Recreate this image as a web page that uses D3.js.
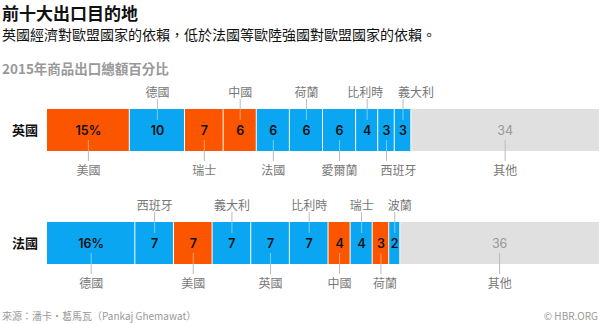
<!DOCTYPE html>
<html lang="zh-TW">
<head>
<meta charset="utf-8">
<script src="https://cdn.jsdelivr.net/npm/d3@7"></script>
<style>
  body { margin: 0; background: #fff; }
  svg text { font-family: "Noto Sans CJK TC", "Noto Sans", sans-serif; }
  .num { font-family: Inter, Roboto, sans-serif; font-weight: 600; font-size: 12.5px; }
</style>
</head>
<body>
<svg width="600" height="324"></svg>
<script>
// UK top ten export destinations, 2015 (% of goods exports)
const ukCountries = ['美國', '德國', '瑞士', '中國', '法國', '荷蘭', '愛爾蘭', '比利時', '西班牙', '義大利', '其他']
const ukValues = [15, 10, 7, 6, 6, 6, 6, 4, 3, 3, 34]
const ukEU = [false, true, false, false, true, true, true, true, true, true, null]

// France
const frCountries = ['德國', '西班牙', '美國', '義大利', '英國', '比利時', '中國', '瑞士', '荷蘭', '波蘭', '其他']
const frValues = [16, 7, 7, 7, 7, 7, 4, 4, 3, 2, 36]
const frEU = [true, true, false, true, true, true, false, true, false, true, null]

const rowLabels = ['英國', '法國']

const svg = d3.select('svg')
const x = d3.scaleLinear().domain([0, 100]).range([47, 599])
const barH = 42

const color = eu => eu === null ? '#e0e0e0' : (eu ? '#0aa6f2' : '#fb5500')

svg.append('text').attr('x', 2).attr('y', 20)
  .style('font-size', '17px').style('font-weight', 'bold').attr('fill', '#111')
  .text('前十大出口目的地')
svg.append('text').attr('x', 2).attr('y', 40)
  .style('font-size', '14px').attr('fill', '#111')
  .text('英國經濟對歐盟國家的依賴，低於法國等歐陸強國對歐盟國家的依賴。')
svg.append('text').attr('x', 2).attr('y', 74)
  .style('font-size', '13.5px').style('font-weight', 'bold').attr('fill', '#999')
  .text('2015年商品出口總額百分比')

function drawRow (countries, values, eu, label, top, nudge) {
  let cum = 0
  const segs = values.map((v, i) => {
    const s = { name: countries[i], v: v, eu: eu[i], x0: cum, x1: cum + v, i: i }
    cum += v
    return s
  })
  const mid = d => x((d.x0 + d.x1) / 2)
  const g = svg.append('g')

  g.append('text').attr('x', 12).attr('y', top + barH / 2 + 5)
    .style('font-size', '13px').style('font-weight', 'bold').attr('fill', '#111')
    .text(label)

  g.selectAll('rect').data(segs).enter().append('rect')
    .attr('x', d => x(d.x0))
    .attr('y', top)
    .attr('width', d => x(d.x1) - x(d.x0) - (d.i < segs.length - 1 ? 1 : 0))
    .attr('height', barH)
    .attr('fill', d => color(d.eu))

  // leader lines, inside the bar
  g.selectAll('line.in').data(segs).enter().append('line')
    .attr('class', 'in')
    .attr('x1', mid).attr('x2', mid)
    .attr('y1', d => d.i % 2 ? top : top + barH - 11)
    .attr('y2', d => d.i % 2 ? top + 11 : top + barH)
    .attr('stroke', d => d.eu === null ? '#bbb' : 'rgba(255,255,255,0.45)')
  // and outside it
  g.selectAll('line.out').data(segs).enter().append('line')
    .attr('class', 'out')
    .attr('x1', mid).attr('x2', mid)
    .attr('y1', d => d.i % 2 ? top - 10 : top + barH)
    .attr('y2', d => d.i % 2 ? top : top + barH + 10)
    .attr('stroke', '#bbb')

  g.selectAll('text.num').data(segs).enter().append('text')
    .attr('class', 'num')
    .attr('x', mid)
    .attr('y', top + barH / 2 + 4.5)
    .attr('text-anchor', 'middle')
    .attr('fill', d => d.eu === null ? '#999' : '#111')
    .style('font-weight', d => d.eu === null ? 400 : 600)
    .text(d => d.i === 0 ? d.v + '%' : d.v)

  g.selectAll('text.name').data(segs).enter().append('text')
    .attr('class', 'name')
    .attr('x', d => mid(d) + (nudge[d.i] || 0))
    .attr('y', d => d.i % 2 ? top - 12 : top + barH + 24)
    .attr('text-anchor', 'middle')
    .style('font-size', '12px')
    .attr('fill', '#777')
    .text(d => d.name)
}

drawRow(ukCountries, ukValues, ukEU, rowLabels[0], 109, { 7: -2, 8: 12, 9: 13 })
drawRow(frCountries, frValues, frEU, rowLabels[1], 222, { 8: 4, 9: 5 })

svg.append('text').attr('x', 2).attr('y', 320)
  .style('font-size', '10px').attr('fill', '#999')
  .text('來源：潘卡・葛馬瓦（Pankaj Ghemawat）')
svg.append('text').attr('x', 598).attr('y', 320).attr('text-anchor', 'end')
  .style('font-size', '10px').attr('fill', '#999')
  .text('© HBR.ORG')
</script>
</body>
</html>
